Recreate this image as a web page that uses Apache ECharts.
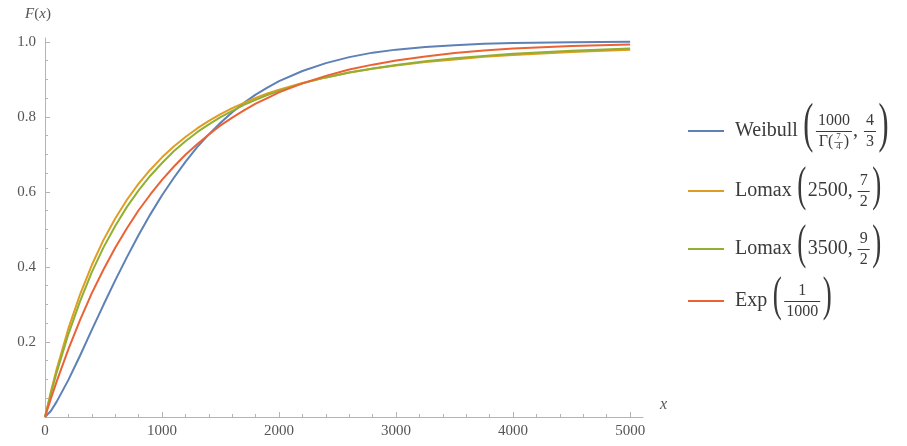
<!DOCTYPE html>
<html>
<head>
<meta charset="utf-8">
<script src="https://cdn.jsdelivr.net/npm/echarts@6/dist/echarts.min.js"></script>
<style>
  html, body { margin: 0; padding: 0; background: #ffffff; }
  #chart { width: 907px; height: 446px; }
</style>
</head>
<body>
<div id="chart"></div>
<script>
// Cumulative distribution functions, all with mean 1000
const xValues = [0, 50, 100, 200, 300, 400, 500, 600, 700, 800, 900, 1000, 1100, 1200, 1300, 1400, 1500,
  1600, 1700, 1800, 1900, 2000, 2200, 2400, 2600, 2800, 3000, 3250, 3500, 3750, 4000, 4500, 5000];
const weibull = [0, 0.016, 0.041, 0.099, 0.164, 0.232, 0.299, 0.364, 0.426, 0.485, 0.540, 0.591, 0.637, 0.680,
  0.719, 0.753, 0.784, 0.812, 0.837, 0.859, 0.878, 0.895, 0.922, 0.943, 0.959, 0.971, 0.979, 0.986, 0.991,
  0.995, 0.997, 0.999, 1.000];
const lomax2500 = [0, 0.067, 0.128, 0.236, 0.327, 0.405, 0.472, 0.529, 0.579, 0.622, 0.659, 0.692, 0.721, 0.746,
  0.769, 0.789, 0.807, 0.823, 0.837, 0.850, 0.862, 0.872, 0.890, 0.905, 0.918, 0.928, 0.937, 0.946, 0.953,
  0.960, 0.965, 0.973, 0.979];
const lomax3500 = [0, 0.062, 0.119, 0.221, 0.309, 0.386, 0.452, 0.509, 0.560, 0.604, 0.643, 0.677, 0.708, 0.735,
  0.759, 0.780, 0.799, 0.816, 0.832, 0.845, 0.858, 0.869, 0.889, 0.905, 0.918, 0.929, 0.938, 0.948, 0.956,
  0.962, 0.968, 0.976, 0.982];
const expo = [0, 0.049, 0.095, 0.181, 0.259, 0.330, 0.393, 0.451, 0.503, 0.551, 0.593, 0.632, 0.667, 0.699,
  0.727, 0.753, 0.777, 0.798, 0.817, 0.835, 0.850, 0.865, 0.889, 0.909, 0.926, 0.939, 0.950, 0.961, 0.970,
  0.977, 0.982, 0.989, 0.993];

const seriesNames = ['Weibull', 'Lomax 2500', 'Lomax 3500', 'Exp'];
const legendWords = ['Weibull', 'Lomax', 'Lomax', 'Exp'];
const seriesColors = ['#5E81B5', '#E19C24', '#8FB032', '#EB6235'];

const xTickValues = [0, 1000, 2000, 3000, 4000, 5000];
const xMinorValues = [200, 400, 600, 800, 1200, 1400, 1600, 1800, 2200, 2400, 2600, 2800,
  3200, 3400, 3600, 3800, 4200, 4400, 4600, 4800];
const yTickValues = [0.2, 0.4, 0.6, 0.8, 1.0];
const yMinorValues = [0.05, 0.1, 0.15, 0.25, 0.3, 0.35, 0.45, 0.5, 0.55, 0.65, 0.7, 0.75, 0.85, 0.9, 0.95];

// ---- styling ----
const FONT = '"Liberation Serif", "Times New Roman", serif';
const AXIS_GRAY = '#b4b4b4';
const LABEL_GRAY = '#555555';
const INK = '#3a3a3a';
const LEGEND_LEFT = 688;
const LEGEND_ROWS = [131, 191, 249, 301];
const WORD_SIZE = 20;
const FRAC_SIZE = 16;
const PAREN_SX = 0.55;

// ---- legend formula pieces ----
const open = h => ({ paren: '(', h });
const close = h => ({ paren: ')', h });
const frac = (num, den, size, rise, drop) => ({ num, den, size, rise, drop });
const bigFrac = (num, den) => frac(num, den, FRAC_SIZE, 10, 11);

const formulas = [
  [open(47), bigFrac(['1000'], ['Γ(', frac(['7'], ['4'], 9, 5, 5), ')']), ',', { gap: 5 }, bigFrac(['4'], ['3']), close(47)],
  [open(42), '2500,', { gap: 4 }, bigFrac(['7'], ['2']), close(42)],
  [open(42), '3500,', { gap: 4 }, bigFrac(['9'], ['2']), close(42)],
  [open(42), bigFrac(['1'], ['1000']), close(42)]
];

const mctx = document.createElement('canvas').getContext('2d');
function textWidth(s, size) {
  mctx.font = size + 'px ' + FONT;
  return mctx.measureText(s).width;
}
function measure(p, size) {
  if (typeof p === 'string') return textWidth(p, size);
  if (p.paren) return textWidth(p.paren, p.h / 0.853) * PAREN_SX + 3;
  if (p.gap) return p.gap;
  return Math.max(measureAll(p.num, p.size), measureAll(p.den, p.size)) + 6;
}
function measureAll(parts, size) {
  return parts.reduce((a, p) => a + measure(p, size), 0);
}
function textEl(str, x, y, size, extra) {
  return Object.assign({
    type: 'text', x: x, y: y, silent: true,
    style: { text: str, fontFamily: FONT, fontSize: size, fill: INK, align: 'left', verticalAlign: 'middle' }
  }, extra || {});
}
function draw(p, x, cy, size, out) {
  if (typeof p === 'string') {
    out.push(textEl(p, x, cy, size));
    return textWidth(p, size);
  }
  if (p.paren) {
    const fs = p.h / 0.853;
    out.push(textEl(p.paren, x + 1.5, cy - 0.0875 * fs, fs, { scaleX: PAREN_SX }));
    return measure(p, size);
  }
  if (p.gap) return p.gap;
  const nw = measureAll(p.num, p.size);
  const dw = measureAll(p.den, p.size);
  const bw = Math.max(nw, dw) + 4;
  const left = x + 1;
  const mid = left + bw / 2;
  drawAll(p.num, mid - nw / 2, cy - p.rise, p.size, out);
  drawAll(p.den, mid - dw / 2, cy + p.drop, p.size, out);
  out.push({
    type: 'line', silent: true,
    shape: { x1: left, y1: cy + 0.5, x2: left + bw, y2: cy + 0.5 },
    style: { stroke: INK, lineWidth: p.size < 12 ? 0.7 : 1 }
  });
  return bw + 2;
}
function drawAll(parts, x, cy, size, out) {
  let cx = x;
  parts.forEach(p => { cx += draw(p, cx, cy, size, out); });
  return cx - x;
}

const formulaElements = [];
formulas.forEach((parts, i) => {
  const startX = LEGEND_LEFT + 36 + 5 + 6 + textWidth(legendWords[i], WORD_SIZE) + 4;
  drawAll(parts, startX, LEGEND_ROWS[i], WORD_SIZE, formulaElements);
});

// ---- chart ----
const chart = echarts.init(document.getElementById('chart'), null, { renderer: 'canvas' });
const dataSets = [weibull, lomax2500, lomax3500, expo];

const axisLabelBase = { fontFamily: FONT, fontSize: 15, color: LABEL_GRAY };

chart.setOption({
  animation: false,
  backgroundColor: '#ffffff',
  grid: { left: 45, right: 264, top: 38, bottom: 29, containLabel: false, outerBoundsMode: 'none' },
  xAxis: [
    {
      type: 'value', min: 0, max: 5110, position: 'bottom',
      name: '{i|x}', nameLocation: 'end', nameGap: 17,
      nameTextStyle: {
        padding: [0, 0, 24, 0],
        rich: { i: { fontFamily: FONT, fontSize: 16, fontStyle: 'italic', color: LABEL_GRAY } }
      },
      axisLine: { show: true, onZero: false, lineStyle: { color: AXIS_GRAY, width: 1 } },
      axisTick: { show: true, inside: true, length: 5, customValues: xTickValues, lineStyle: { color: AXIS_GRAY } },
      axisLabel: Object.assign({ customValues: xTickValues, margin: 7, formatter: v => String(v) }, axisLabelBase),
      splitLine: { show: false }, minorTick: { show: false }
    },
    {
      type: 'value', min: 0, max: 5110, position: 'bottom',
      axisLine: { show: false, onZero: false },
      axisTick: { show: true, inside: true, length: 3, customValues: xMinorValues, lineStyle: { color: AXIS_GRAY } },
      axisLabel: { show: false },
      splitLine: { show: false }
    }
  ],
  yAxis: [
    {
      type: 'value', min: 0, max: 1.01, position: 'left',
      name: '{i|F}{n|(}{i|x}{n|)}', nameLocation: 'end', nameGap: 16,
      nameTextStyle: {
        align: 'center', padding: [0, 14, 0, 0],
        rich: {
          i: { fontFamily: FONT, fontSize: 15, fontStyle: 'italic', color: LABEL_GRAY },
          n: { fontFamily: FONT, fontSize: 15, color: LABEL_GRAY }
        }
      },
      axisLine: { show: true, onZero: false, lineStyle: { color: AXIS_GRAY, width: 1 } },
      axisTick: { show: true, inside: true, length: 5, customValues: yTickValues, lineStyle: { color: AXIS_GRAY } },
      axisLabel: Object.assign({ customValues: yTickValues, margin: 9, formatter: v => v.toFixed(1) }, axisLabelBase),
      splitLine: { show: false }, minorTick: { show: false }
    },
    {
      type: 'value', min: 0, max: 1.01, position: 'left',
      axisLine: { show: false, onZero: false },
      axisTick: { show: true, inside: true, length: 3, customValues: yMinorValues, lineStyle: { color: AXIS_GRAY } },
      axisLabel: { show: false },
      splitLine: { show: false }
    }
  ],
  legend: seriesNames.map((n, i) => ({
    data: [n],
    left: LEGEND_LEFT, top: LEGEND_ROWS[i] - 11,
    orient: 'vertical', padding: 0,
    icon: 'rect', itemWidth: 36, itemHeight: 2,
    selectedMode: false,
    formatter: () => legendWords[i],
    textStyle: { fontFamily: FONT, fontSize: WORD_SIZE, color: INK, lineHeight: 22, padding: [0, 0, 0, 6] }
  })),
  graphic: { elements: formulaElements },
  series: seriesNames.map((n, i) => ({
    name: n,
    type: 'line',
    xAxisIndex: 0, yAxisIndex: 0,
    showSymbol: false, symbol: 'none',
    smooth: false,
    color: seriesColors[i],
    lineStyle: { color: seriesColors[i], width: 2 },
    itemStyle: { color: seriesColors[i] },
    z: 2 + i,
    data: xValues.map((x, k) => [x, dataSets[i][k]])
  }))
});
</script>
</body>
</html>
